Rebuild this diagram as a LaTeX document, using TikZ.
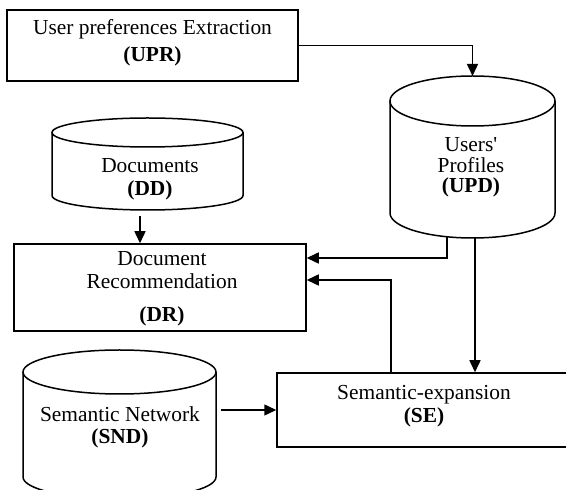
\documentclass[tikz,border=0pt]{standalone}
\usepackage{fontspec}
\setmainfont{Liberation Serif}
\usetikzlibrary{arrows.meta,calc}
\newcommand\mycyl[3]{%
  \draw[ln] ([yshift=-#3pt]#1.north west) -- ([yshift=#3pt]#1.south west)
    arc[start angle=180,end angle=360,x radius=#2,y radius=#3]
    -- ([yshift=-#3pt]#1.north east);
  \draw[ln] ([yshift=-#3pt]#1.north) ellipse[x radius=#2, y radius=#3];}
\begin{document}
\begin{tikzpicture}[x=1pt,y=1pt,
  box/.style={draw, line width=1.5pt, inner sep=0pt, fill=white},
  body/.style={inner sep=0pt, outer sep=0pt, draw=none},
  txt/.style={align=center, inner sep=0pt},
  ln/.style={line width=1.5pt},
  arr/.style={line width=1.5pt, -{Triangle[length=12pt,width=11pt]}}]
\useasboundingbox (0,0) rectangle (566,490);
\fill[white] (0,0) rectangle (566,490);

% boxes
\node[box, minimum width=291pt, minimum height=71pt] (upr) at (152.5,444.5) {};
\node[txt, font=\fontsize{21.4}{27}\selectfont] (uprt) at (152.5,447.5)
  {User preferences Extraction\\\textbf{(UPR)}};

\node[box, minimum width=292pt, minimum height=87pt] (dr) at (160,202.5) {};
\node[txt, font=\fontsize{21.4}{23}\selectfont] (drt) at (162,201)
  {Document\\Recommendation\\[10pt]\textbf{(DR)}};

\node[box, minimum width=333pt, minimum height=74pt] (se) at (443.5,80) {};
\node[txt, font=\fontsize{21.4}{23}\selectfont] (set) at (424,83.5)
  {Semantic-expansion\\\textbf{(SE)}};

% cylinders
\node[body, minimum width=165pt, minimum height=162pt] (upd) at (472.5,333) {};
\mycyl{upd}{82.5}{25}
\node[txt, font=\fontsize{21.4}{20.5}\selectfont] (updt) at (471,322.5)
  {Users\textquotesingle\\Profiles\\\textbf{(UPD)}};

\node[body, minimum width=191pt, minimum height=92pt] (dd) at (147.5,326) {};
\mycyl{dd}{95.5}{14.5}
\node[txt, font=\fontsize{21.4}{23}\selectfont] (ddt) at (150,310.5)
  {Documents\\\textbf{(DD)}};

\node[body, minimum width=193pt, minimum height=149pt] (snd) at (119.5,65.5) {};
\mycyl{snd}{96.5}{22}
\node[txt, font=\fontsize{21.4}{22}\selectfont] (sndt) at (120,63)
  {Semantic Network\\\textbf{(SND)}};

% connectors
\coordinate (updx) at ([xshift=2.5pt]upd.south);
\coordinate (ddx) at ([xshift=-7.5pt,yshift=-6pt]dd.south);
\coordinate (sndx) at ($(snd.east |- se.west)+(5,0)$);

\draw[arr] (upr.east) -| (upd.north);
\draw[arr] ([xshift=-25.5pt,yshift=1.2pt]upd.south) |- ([yshift=29.5pt]dr.east);
\draw[arr] ([xshift=-52.5pt]se.north) |- ([yshift=7.5pt]dr.east);
\draw[arr] (updx) -- (updx |- se.north);
\draw[arr] (ddx) -- (ddx |- dr.north);
\draw[arr] (sndx) -- (se.west);
\end{tikzpicture}
\end{document}
